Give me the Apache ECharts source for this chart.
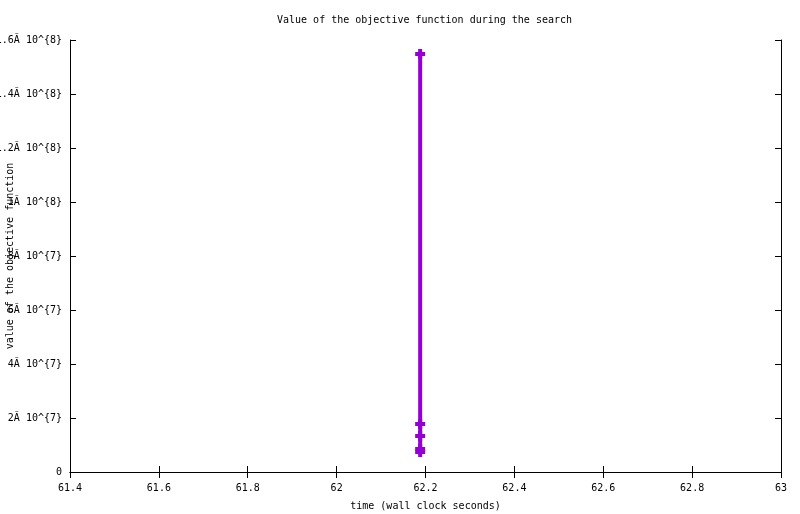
<!DOCTYPE html>
<html><head><meta charset="utf-8">
<script src="https://cdn.jsdelivr.net/npm/echarts@6/dist/echarts.min.js"></script>
<style>html,body{margin:0;padding:0;background:#fff}#c{width:800px;height:514px}</style>
</head><body><div id="c"></div>
<script>
var timeValues = [62.188, 62.188, 62.188, 62.188, 62.188];
var objectiveValues = [1.548e8, 1.78e7, 1.33e7, 8.5e6, 7.4e6];
var yTickLabels = ['0','2Ã 10^{7}','4Ã 10^{7}','6Ã 10^{7}','8Ã 10^{7}','1Ã 10^{8}','1.2Ã 10^{8}','1.4Ã 10^{8}','1.6Ã 10^{8}'];
var xTickLabels = ['61.4','61.6','61.8','62','62.2','62.4','62.6','62.8','63'];

var font = 'DejaVu Sans Mono';
var data = timeValues.map(function(t,i){return [t, objectiveValues[i]];});
var plus = 'path://M3,0H7V3H10V7H7V10H3V7H0V3H3Z';
var chart = echarts.init(document.getElementById('c'));
chart.setOption({
  animation:false,
  backgroundColor:'#fff',
  title:{text:'Value of the objective function during the search', left:272, top:10,
    textStyle:{fontFamily:font,fontSize:10,fontWeight:'normal',color:'#000'}},
  grid:{left:70,right:19,top:40,bottom:42,containLabel:false,outerBoundsMode:'none'},
  xAxis:[{type:'value',min:61.4,max:63,interval:0.2,position:'bottom',
    name:'time (wall clock seconds)',nameLocation:'middle',nameGap:29,nameMoveOverlap:false,
    nameTextStyle:{fontFamily:font,fontSize:10,color:'#000'},
    axisLine:{lineStyle:{color:'#000',width:1}},
    axisTick:{inside:true,length:6,lineStyle:{color:'#000'}},
    axisLabel:{margin:11,fontFamily:font,fontSize:10,color:'#000',
      formatter:function(v){return xTickLabels[Math.round((v-61.4)/0.2)];}},
    splitLine:{show:false}},
   {type:'value',min:61.4,max:63,interval:0.2,position:'top',
    axisLine:{lineStyle:{color:'#000',width:1}},
    axisTick:{inside:true,length:6,lineStyle:{color:'#000'}},
    axisLabel:{show:false},splitLine:{show:false}}],
  yAxis:[{type:'value',min:0,max:1.6e8,interval:2e7,position:'left',
    name:'value of the objective function',nameLocation:'middle',nameRotate:90,nameGap:55,nameMoveOverlap:false,
    nameTextStyle:{fontFamily:font,fontSize:10,color:'#000'},
    axisLine:{show:true,lineStyle:{color:'#000',width:1}},
    axisTick:{show:true,inside:true,length:6,lineStyle:{color:'#000'}},
    axisLabel:{margin:8,fontFamily:font,fontSize:10,color:'#000',
      formatter:function(v){return yTickLabels[Math.round(v/2e7)];}},
    splitLine:{show:false}},
   {type:'value',min:0,max:1.6e8,interval:2e7,position:'right',
    axisLine:{show:true,lineStyle:{color:'#000',width:1}},
    axisTick:{show:true,inside:true,length:6,lineStyle:{color:'#000'}},
    axisLabel:{show:false},splitLine:{show:false}}],
  series:[{type:'line',xAxisIndex:0,yAxisIndex:0,data:data,
    lineStyle:{color:'#9400d3',width:4},
    itemStyle:{color:'#9400d3'},
    symbol:plus,symbolSize:10,showAllSymbol:true}]
});
</script></body></html>
